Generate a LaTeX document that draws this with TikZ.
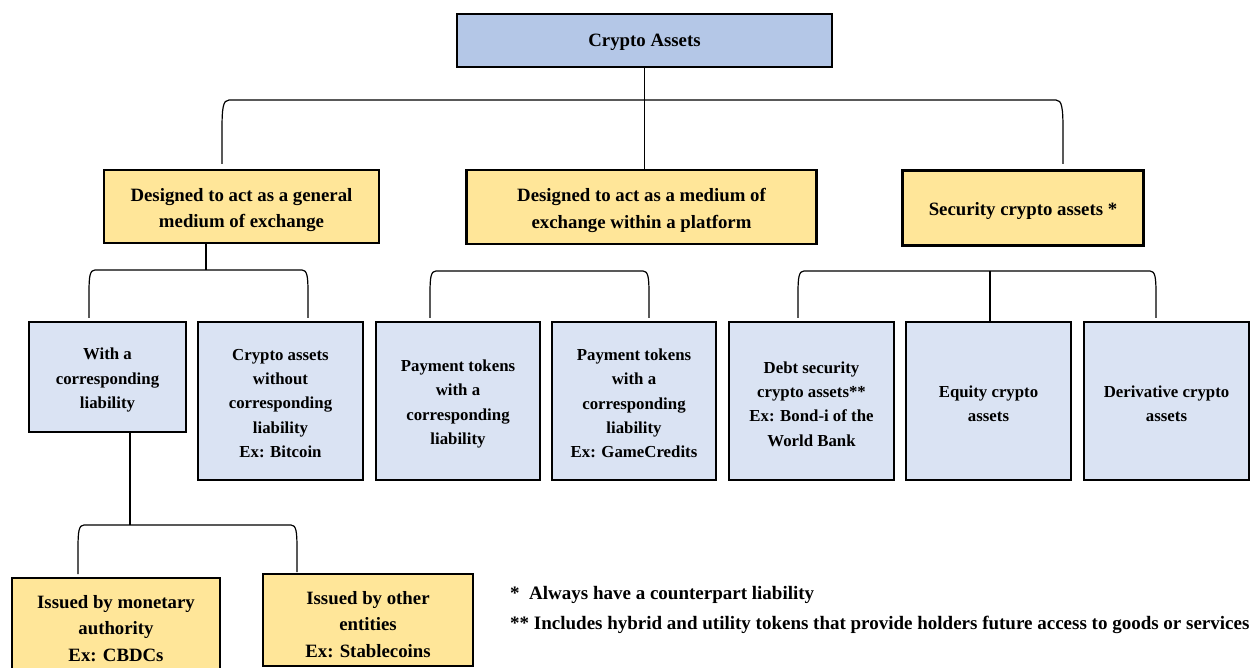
\documentclass[tikz,border=0pt]{standalone}
\usepackage{fontspec}
\setmainfont{Liberation Serif}
\definecolor{topblue}{HTML}{B4C7E7}
\definecolor{lightblue}{HTML}{DAE3F3}
\definecolor{lightyellow}{HTML}{FFE699}
\begin{document}
\begin{tikzpicture}[x=1pt,y=-1pt,
  box/.style={draw=black, line width=2.2pt, inner sep=0pt},
  ybox/.style={box, fill=lightyellow},
  bbox/.style={box, fill=lightblue},
  ytext/.style={inner sep=0pt, align=center, font=\bfseries\fontsize{18.8}{26.5}\selectfont},
  btext/.style={inner sep=0pt, align=center, font=\bfseries\fontsize{16.8}{24.3}\selectfont},
  conn/.style={line width=1.2pt},
  note/.style={anchor=base west, inner sep=0pt, font=\bfseries\fontsize{19}{22}\selectfont}]
\useasboundingbox (0,0) rectangle (1256,668);
\clip (0,0) rectangle (1256,668);
\fill[white] (0,0) rectangle (1256,668);

% top
\node[box, fill=topblue, minimum width=375pt, minimum height=53pt] (top) at (644.5,40.5) {};
\node[ytext] (topt) at ([yshift=-2pt]top.center) {Crypto Assets};

% level 1
\node[ybox, minimum width=275pt, minimum height=73pt] (g1) at (241.5,206.5) {};
\node[ytext] (g1t) at ([yshift=-3.5pt]g1.center) {Designed to act as a general\\medium of exchange};
\node[ybox, minimum width=350pt, minimum height=74pt] (g2) at (641.5,207) {};
\node[ytext] (g2t) at ([yshift=-3.5pt]g2.center) {Designed to act as a medium of\\exchange within a platform};
\node[ybox, minimum width=241pt, minimum height=75pt] (g3) at (1023,208) {};
\node[ytext] (g3t) at ([yshift=-3pt]g3.center) {Security crypto assets *};

% level 2
\node[bbox, minimum width=157pt, minimum height=110pt] (b1) at (107.5,377) {};
\node[btext] (b1t) at ([yshift=-3pt]b1.center) {With a\\corresponding\\liability};
\node[bbox, minimum width=165pt, minimum height=158pt] (b2) at (280.5,401) {};
\node[btext] (b2t) at ([yshift=-2.5pt]b2.center) {Crypto assets\\without\\corresponding\\liability\\Ex: Bitcoin};
\node[bbox, minimum width=164pt, minimum height=158pt] (b3) at (458,401) {};
\node[btext] (b3t) at ([yshift=-3pt]b3.center) {Payment tokens\\with a\\corresponding\\liability};
\node[bbox, minimum width=164pt, minimum height=158pt] (b4) at (634,401) {};
\node[btext] (b4t) at ([yshift=-2.5pt]b4.center) {Payment tokens\\with a\\corresponding\\liability\\Ex: GameCredits};
\node[bbox, minimum width=165pt, minimum height=158pt] (b5) at (811.5,401) {};
\node[btext] (b5t) at ([yshift=-3pt]b5.center) {Debt security\\crypto assets**\\Ex: Bond-i of the\\World Bank};
\node[bbox, minimum width=165pt, minimum height=158pt] (b6) at (988.5,401) {};
\node[btext] (b6t) at ([yshift=-2.5pt]b6.center) {Equity crypto\\assets};
\node[bbox, minimum width=165pt, minimum height=158pt] (b7) at (1166.5,401) {};
\node[btext] (b7t) at ([yshift=-2.5pt]b7.center) {Derivative crypto\\assets};

% level 3
\node[ybox, minimum width=208pt, minimum height=98pt] (y1) at (116,627) {};
\node[ytext] (y1t) at ([yshift=-1.5pt]y1.center) {Issued by monetary\\authority\\Ex: CBDCs};
\node[ybox, minimum width=210pt, minimum height=92pt] (y2) at (368,620) {};
\node[ytext] (y2t) at ([yshift=-4.5pt]y2.center) {Issued by other\\entities\\Ex: Stablecoins};

% notes
\node[note] (f1) at (510,599) {*\ \ Always have a counterpart liability};
\node[note] (f2) at (510,629) {** Includes hybrid and utility tokens that provide holders future access to goods or services};

% top bracket
\draw[conn] (top.south) -- (top.south |- g2.north);
\draw[conn] (222,164) -- (222,130) .. controls (222,108) and (223,100) .. (229,100)
  -- (1056,100) .. controls (1062,100) and (1063,108) .. (1063,130) -- (1063,164);

% left bracket
\draw[conn] ([xshift=-35.5pt]g1.south) -- (206,270);
\draw[conn] (89,318) -- (89,292) .. controls (89,276) and (90,270) .. (95,270)
  -- (302,270) .. controls (307,270) and (308,276) .. (308,292) -- (308,318);

% middle bracket
\draw[conn] (430,318) -- (430,293) .. controls (430,277) and (431,271) .. (436,271)
  -- (643,271) .. controls (648,271) and (649,277) .. (649,293) -- (649,318);

% right bracket
\draw[conn] (798,318) -- (798,293) .. controls (798,277) and (799,271) .. (804,271)
  -- (1150,271) .. controls (1155,271) and (1156,277) .. (1156,293) -- (1156,318);
\draw[conn] (990,271) -- ([xshift=1.5pt]b6.north);

% lower bracket
\draw[conn] ([xshift=22.5pt]b1.south) -- (130,525);
\draw[conn] (78,574) -- (78,548) .. controls (78,531) and (79,525) .. (84,525)
  -- (291,525) .. controls (296,525) and (297,531) .. (297,548) -- (297,572);
\end{tikzpicture}
\end{document}
